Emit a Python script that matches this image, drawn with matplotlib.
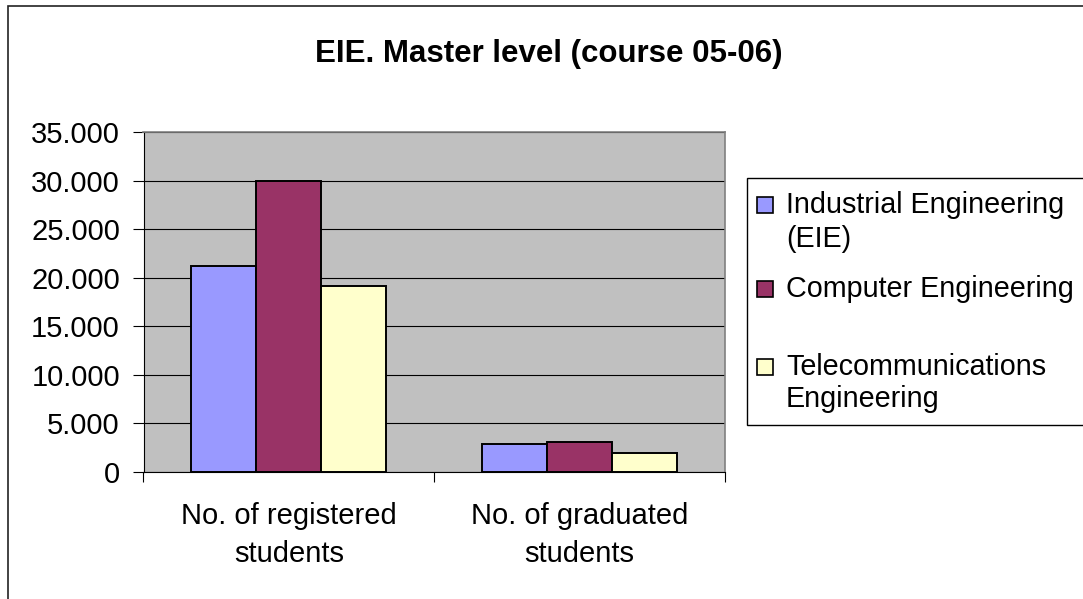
import matplotlib
matplotlib.use("Agg")
import matplotlib.pyplot as plt
from matplotlib.patches import Rectangle
from matplotlib.ticker import FuncFormatter
import numpy as np

plt.rcParams['font.family'] = ['Liberation Sans', 'DejaVu Sans']

## -------------  DATA  ------------ ##
categories = ["No. of registered\nstudents", "No. of graduated\nstudents"]
series_names = ["Industrial Engineering (EIE)", "Computer Engineering",
                "Telecommunications Engineering"]
legend_lines = [["Industrial Engineering", "(EIE)"],
                ["Computer Engineering"],
                ["Telecommunications", "Engineering"]]
industrial = [21200, 2900]
computer = [30000, 3050]
telecom = [19100, 1900]
colors = ["#9999FF", "#993366", "#FFFFCC"]
y_ticks = [0, 5000, 10000, 15000, 20000, 25000, 30000, 35000]

W, H = 1083, 599


def px(x, y):
    # pixel coords (from top-left) -> figure fraction
    return x / W, 1 - y / H


fig = plt.figure(figsize=(W / 100, H / 100), dpi=100)
fig.patch.set_facecolor("white")

left, top = px(143.5, 132)
right, bottom = px(724.7, 471.7)
ax = fig.add_axes([left, bottom, right - left, top - bottom])
ax.set_facecolor("#C0C0C0")

## -------------  BARS  ------------ ##
x = np.arange(len(categories))
width = 0.224
for i, (vals, col) in enumerate(zip([industrial, computer, telecom], colors)):
    ax.bar(x + (i - 1) * width, vals, width, color=col, edgecolor="black",
           linewidth=1.4, zorder=3, label=series_names[i])

ax.set_xlim(-0.5, 1.5)
ax.set_ylim(0, 35000)

ax.set_yticks(y_ticks)
ax.yaxis.set_major_formatter(
    FuncFormatter(lambda v, p: f"{int(v):,}".replace(",", ".")))
ax.yaxis.grid(True, color="black", linewidth=0.8, zorder=1)
ax.set_axisbelow(True)
ax.tick_params(axis="y", direction="out", length=8, width=0.8, pad=9,
               labelsize=21, colors="black")

# category boundaries get the tick marks, centres get the labels
ax.set_xticks([-0.5, 0.5, 1.5])
ax.set_xticklabels([])
ax.tick_params(axis="x", which="major", direction="out", length=7, width=0.8)
ax.set_xticks(x, minor=True)
ax.set_xticklabels(categories, minor=True, fontsize=21, linespacing=1.45)
ax.tick_params(axis="x", which="minor", length=0, pad=22)

for s in ["top", "right"]:
    ax.spines[s].set_color("#808080")
    ax.spines[s].set_linewidth(1.2)
for s in ["left", "bottom"]:
    ax.spines[s].set_color("black")
    ax.spines[s].set_linewidth(0.8)

## -------------  TITLE  ------------ ##
tx, ty = px(549, 62)
fig.text(tx, ty, "EIE. Master level (course 05-06)", ha="center",
         va="baseline", fontsize=22.5, fontweight="bold")

## -------------  LEGEND  ------------ ##
lx, ly = px(747, 425)
lx2, ly2 = px(1100, 178)
fig.patches.append(Rectangle((lx, ly), lx2 - lx, ly2 - ly,
                             transform=fig.transFigure, facecolor="white",
                             edgecolor="black", linewidth=1.0))
baselines = [[213, 247], [297], [375, 407]]
for lines, bls, col in zip(legend_lines, baselines, colors):
    mx, my = px(757, bls[0])
    mx2, my2 = px(773, bls[0] - 16)
    fig.patches.append(Rectangle((mx, my), mx2 - mx, my2 - my,
                                 transform=fig.transFigure, facecolor=col,
                                 edgecolor="black", linewidth=1.2))
    for line, b in zip(lines, bls):
        fx, fy = px(786, b)
        fig.text(fx, fy, line, ha="left", va="baseline", fontsize=20.7)

## -------------  OUTER BORDER  ------------ ##
bx, by = px(8, 620)
bx2, by2 = px(1100, 6)
fig.patches.append(Rectangle((bx, by), bx2 - bx, by2 - by,
                             transform=fig.transFigure, facecolor="none",
                             edgecolor="#222222", linewidth=1.2))

fig.savefig("out.png", dpi=100)
